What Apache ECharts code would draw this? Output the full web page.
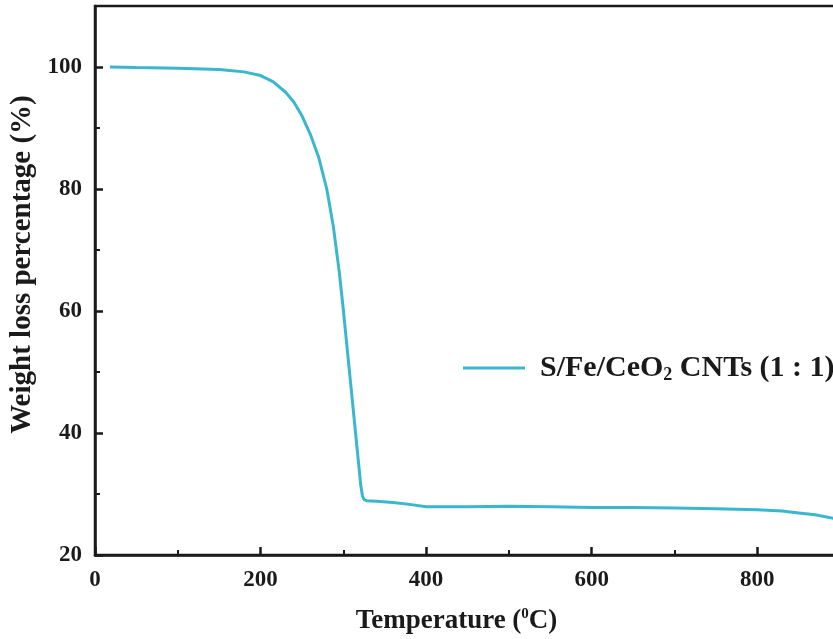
<!DOCTYPE html>
<html>
<head>
<meta charset="utf-8">
<script src="https://cdn.jsdelivr.net/npm/echarts@6/dist/echarts.min.js"></script>
<style>
  html, body { margin: 0; padding: 0; background: #ffffff; }
  #chart { width: 833px; height: 639px; }
</style>
</head>
<body>
<div id="chart"></div>
<script>
// Temperature (°C)
const temperature = [18, 50, 100, 150, 180, 200, 215, 230, 240, 250, 260, 270, 280, 288, 295, 300, 306, 312, 318, 321, 323, 325, 328, 340, 360, 380, 400, 450, 500, 550, 600, 650, 700, 750, 800, 830, 850, 870, 892];
// Weight loss percentage (%)
const weight = [100, 99.9, 99.8, 99.6, 99.2, 98.6, 97.6, 95.9, 94.3, 92.0, 89.0, 85.3, 80.0, 73.8, 66.5, 60.2, 52.0, 43.8, 35.6, 31.5, 29.7, 29.1, 28.9, 28.8, 28.6, 28.3, 27.9, 27.9, 28.0, 27.9, 27.8, 27.8, 27.7, 27.6, 27.4, 27.2, 26.9, 26.6, 26.0];
const seriesName = 'S/Fe/CeO2 CNTs (1 : 1)';
const xTicks = [0, 200, 400, 600, 800];
const yTicks = [20, 40, 60, 80, 100];

const FONT = "'Liberation Serif', 'Times New Roman', serif";
const AXIS_COLOR = '#1a1a1a';
const LINE_COLOR = '#3ab7cf';

const points = temperature.map((t, i) => [t, weight[i]]);

const chart = echarts.init(document.getElementById('chart'), null, { renderer: 'canvas' });
chart.setOption({
  backgroundColor: '#ffffff',
  animation: false,
  grid: {
    left: 95, top: 6, width: 745, height: 549,
    containLabel: false,
    outerBoundsMode: 'none',
    show: true, borderColor: AXIS_COLOR, borderWidth: 2.5, backgroundColor: 'transparent'
  },
  legend: {
    show: true,
    left: 463, top: 353,
    padding: 0,
    itemWidth: 62, itemHeight: 14,
    icon: 'path://M0,0 L62,0 L62,3 L0,3 Z',
    itemStyle: { color: LINE_COLOR },
    formatter: function () { return '{a|S/Fe/CeO}{s|2}{a| CNTs (1 : 1)}'; },
    textStyle: {
      padding: [0, 0, 0, 10],
      rich: {
        a: { fontFamily: FONT, fontWeight: 'bold', fontSize: 30, color: '#1a1a1a' },
        s: { fontFamily: FONT, fontWeight: 'bold', fontSize: 18, color: '#1a1a1a', padding: [14, 0, 0, 0] }
      }
    }
  },
  xAxis: {
    type: 'value', min: 0, max: 900, interval: 200,
    name: '{a|Temperature (}{s|0}{a|C)}',
    nameLocation: 'middle', nameGap: 52,
    nameTextStyle: {
      padding: [0, 22, 0, 0],
      rich: {
        a: { fontFamily: FONT, fontWeight: 'bold', fontSize: 27, color: '#1a1a1a' },
        s: { fontFamily: FONT, fontWeight: 'bold', fontSize: 15, color: '#1a1a1a', padding: [0, 0, 14, 0] }
      }
    },
    axisLine: { show: true, onZero: false, lineStyle: { color: AXIS_COLOR, width: 2.5 } },
    axisTick: { show: true, inside: true, length: 8, customValues: xTicks, lineStyle: { color: AXIS_COLOR, width: 2.5 } },
    minorTick: { show: true, splitNumber: 2, length: 5, lineStyle: { color: AXIS_COLOR, width: 2 } },
    axisLabel: {
      showMaxLabel: false, margin: 14,
      fontFamily: FONT, fontWeight: 'bold', fontSize: 23, color: '#1a1a1a',
      formatter: function (v) { return xTicks.indexOf(v) >= 0 ? String(v) : ''; }
    },
    splitLine: { show: false }
  },
  yAxis: {
    type: 'value', min: 20, max: 110, interval: 20,
    name: 'Weight loss percentage (%)',
    nameLocation: 'middle', nameGap: 43, nameRotate: 90,
    nameTextStyle: {
      fontFamily: FONT, fontWeight: 'bold', fontSize: 29, color: '#1a1a1a',
      padding: [0, 0, 0, 32]
    },
    axisLine: { show: true, onZero: false, lineStyle: { color: AXIS_COLOR, width: 2.5 } },
    axisTick: { show: true, inside: true, length: 8, customValues: yTicks, lineStyle: { color: AXIS_COLOR, width: 2.5 } },
    minorTick: { show: true, splitNumber: 2, length: 5, lineStyle: { color: AXIS_COLOR, width: 2 } },
    axisLabel: {
      showMaxLabel: false, margin: 13,
      fontFamily: FONT, fontWeight: 'bold', fontSize: 23, color: '#1a1a1a',
      formatter: function (v) { return yTicks.indexOf(v) >= 0 ? String(v) : ''; }
    },
    splitLine: { show: false }
  },
  series: [{
    name: seriesName,
    type: 'line',
    data: points,
    symbol: 'none',
    smooth: false,
    clip: true,
    lineStyle: { color: LINE_COLOR, width: 3 },
    itemStyle: { color: LINE_COLOR }
  }]
});
</script>
</body>
</html>
